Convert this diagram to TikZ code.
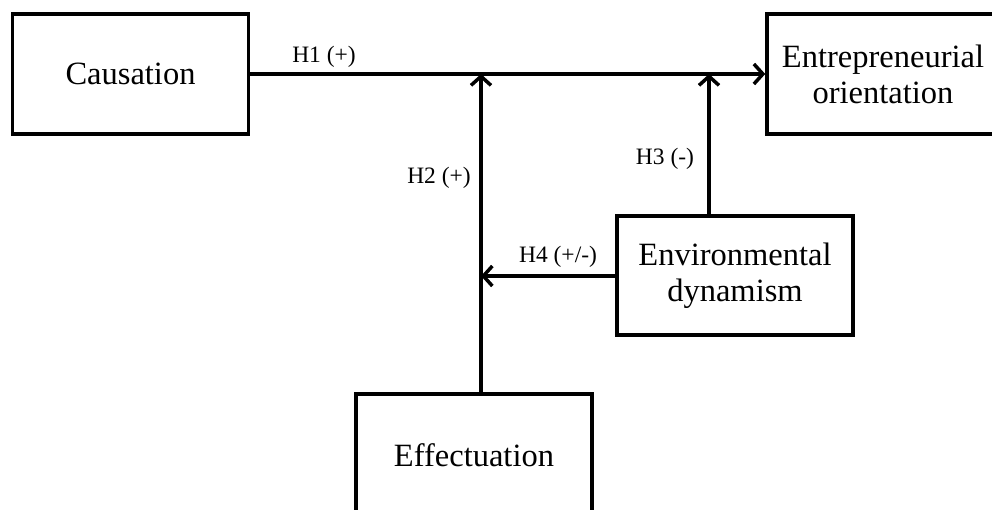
\documentclass[tikz,border=0pt]{standalone}
\usepackage{fontspec}
\setmainfont{Liberation Serif}
\usetikzlibrary{arrows.meta}
\begin{document}
\begin{tikzpicture}[x=1pt,y=-1pt,
  box/.style={draw,line width=3.5pt,minimum width=236pt,inner sep=0pt,align=center,
    font=\fontsize{32.5pt}{36pt}\selectfont},
  lbl/.style={font=\fontsize{23.5pt}{26pt}\selectfont,inner sep=0pt},
  conn/.style={line width=4pt,-{Straight Barb[length=9pt,width=20pt,line width=3.5pt]}}]
\useasboundingbox (0,0) rectangle (992,509);
\clip (0,0) rectangle (992,509);
\node[box,minimum height=120pt] (cau) at (130.5,74) {Causation};
\node[box,minimum height=120pt,minimum width=232pt] (eo) at (883,74) {Entrepreneurial\\orientation};
\node[box,minimum height=119pt] (env) at (735,275.5) {Environmental\\dynamism};
\node[box,minimum height=122pt] (eff) at (474,455) {Effectuation};
\coordinate (j1) at (481,74);
\coordinate (j2) at (709,74);
\coordinate (j3) at (481,276);
\draw[conn] (cau.east) -- (eo.west);
\draw[conn] (eff.north -| j1) -- (j1);
\draw[conn] (env.north -| j2) -- (j2);
\draw[conn] (env.west |- j3) -- (j3);
\node[lbl] (h1) at (324,57) {H1 (+)};
\node[lbl] (h2) at (439,178) {H2 (+)};
\node[lbl] (h3) at (665,159) {H3 (-)};
\node[lbl] (h4) at (558,257) {H4 (+/-)};
\end{tikzpicture}
\end{document}
